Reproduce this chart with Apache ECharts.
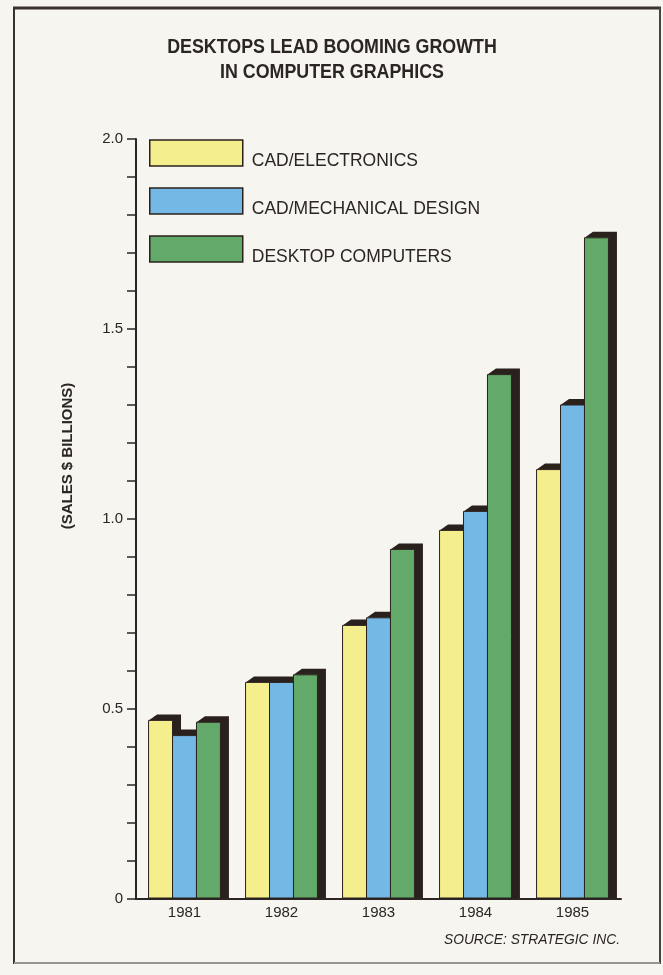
<!DOCTYPE html>
<html>
<head>
<meta charset="utf-8">
<script src="https://cdn.jsdelivr.net/npm/echarts@6/dist/echarts.min.js"></script>
<style>
html,body{margin:0;padding:0;background:#f7f5f0;}
#c{width:663px;height:975px;}
</style>
</head>
<body>
<div id="c"></div>
<script>
var years = ['1981', '1982', '1983', '1984', '1985'];
var cadElectronics = [0.47, 0.57, 0.72, 0.97, 1.13];
var cadMechanical = [0.43, 0.57, 0.74, 1.02, 1.30];
var desktopComputers = [0.465, 0.59, 0.92, 1.38, 1.74];
var seriesNames = ['CAD/ELECTRONICS', 'CAD/MECHANICAL DESIGN', 'DESKTOP COMPUTERS'];
var titleText = 'DESKTOPS LEAD BOOMING GROWTH\nIN COMPUTER GRAPHICS';
var yAxisTitle = '(SALES $ BILLIONS)';
var sourceText = 'SOURCE: STRATEGIC INC.';

var ink = '#2b2523';
var shadowInk = '#2a201c';
var colors = ['#f5ee8c', '#74b8e6', '#62a96a'];
var FONT = "'Liberation Sans', Arial, Helvetica, sans-serif";

function makeRender(k, color) {
  return function (params, api) {
    var idx = api.value(0);
    var val = api.value(1);
    var top = api.coord([idx, val]);
    var base = api.coord([idx, 0]);
    var catW = api.size([1, 0])[0];
    var w = catW * 0.247;
    var cx = top[0] + (k - 1) * w;
    var x0 = cx - w / 2, x1 = cx + w / 2;
    var yT = top[1], yB = base[1] - 1;
    var dx = 8.5, dy = 6;
    return {
      type: 'group',
      children: [
        {
          type: 'polygon',
          shape: { points: [[x0, yT], [x0 + dx, yT - dy], [x1 + dx, yT - dy], [x1 + dx, yB], [x1, yB], [x1, yT]] },
          style: { fill: shadowInk }
        },
        {
          type: 'rect',
          shape: { x: x0, y: yT, width: w, height: yB - yT },
          style: { fill: color, stroke: shadowInk, lineWidth: 1 }
        }
      ]
    };
  };
}

function barSeries(k, name, values, color) {
  return {
    name: name,
    type: 'custom',
    renderItem: makeRender(k, color),
    data: values.map(function (v, i) { return [i, v]; }),
    encode: { x: 0, y: 1 },
    itemStyle: { color: color },
    emphasis: { disabled: true },
    silent: true
  };
}

var chart = echarts.init(document.getElementById('c'), null, { renderer: 'canvas' });
chart.setOption({
  backgroundColor: '#f7f5f0',
  animation: false,
  textStyle: { fontFamily: FONT },
  legend: {
    orient: 'vertical',
    left: 144,
    top: 131,
    itemWidth: 93,
    itemHeight: 26,
    itemGap: 14,
    icon: 'rect',
    data: seriesNames,
    itemStyle: {
      borderColor: shadowInk,
      borderWidth: 1.5
    },
    formatter: function (name) { return '{t|' + name + '}'; },
    textStyle: {
      fontFamily: FONT,
      fontSize: 17.5,
      color: ink,
      rich: {
        t: { fontFamily: FONT, fontSize: 17.5, color: ink, lineHeight: 20, padding: [16, 0, 0, 4] }
      }
    },
    selectedMode: false
  },
  grid: { left: 136, right: 42, top: 139, bottom: 76 },
  xAxis: {
    type: 'category',
    data: years,
    axisLine: { lineStyle: { color: ink, width: 2 } },
    axisTick: { show: false },
    axisLabel: { color: ink, fontSize: 15, margin: 6, fontFamily: FONT }
  },
  yAxis: {
    type: 'value',
    min: 0,
    max: 2.0,
    interval: 0.1,
    axisLine: { show: true, lineStyle: { color: ink, width: 2 } },
    axisTick: { show: true, inside: false, length: 9, lineStyle: { color: ink, width: 1.5 } },
    splitLine: { show: false },
    axisLabel: {
      color: ink,
      fontSize: 15,
      margin: 13,
      fontFamily: FONT,
      formatter: function (v) {
        var r = Math.round(v * 10);
        if (r === 0) return '0';
        if (r % 5 === 0) return (r / 10).toFixed(1);
        return '';
      }
    }
  },
  series: [
    barSeries(0, seriesNames[0], cadElectronics, colors[0]),
    barSeries(1, seriesNames[1], cadMechanical, colors[1]),
    barSeries(2, seriesNames[2], desktopComputers, colors[2])
  ],
  graphic: [
    { type: 'line', shape: { x1: 13, y1: 8, x2: 661, y2: 8 }, style: { stroke: '#3a322e', lineWidth: 3 }, silent: true },
    { type: 'line', shape: { x1: 14, y1: 7, x2: 14, y2: 964 }, style: { stroke: '#3a322e', lineWidth: 2 }, silent: true },
    { type: 'line', shape: { x1: 660, y1: 7, x2: 660, y2: 964 }, style: { stroke: '#4a423e', lineWidth: 2 }, silent: true },
    { type: 'line', shape: { x1: 14, y1: 963, x2: 660, y2: 963 }, style: { stroke: '#9a9590', lineWidth: 2 }, silent: true },
    {
      type: 'text',
      x: 332,
      y: 60,
      scaleX: 0.87,
      style: {
        text: titleText,
        fontFamily: FONT,
        fontWeight: 'bold',
        fontSize: 20.5,
        lineHeight: 25,
        fill: ink,
        textAlign: 'center',
        textVerticalAlign: 'middle'
      },
      silent: true
    },
    {
      type: 'text',
      x: 68,
      y: 456,
      rotation: Math.PI / 2,
      style: {
        text: yAxisTitle,
        fontFamily: FONT,
        fontWeight: 'bold',
        fontSize: 15,
        fill: ink,
        textAlign: 'center',
        textVerticalAlign: 'middle'
      },
      silent: true
    },
    {
      type: 'text',
      x: 620,
      y: 940,
      style: {
        text: sourceText,
        fontFamily: FONT,
        fontStyle: 'italic',
        fontSize: 13.8,
        fill: ink,
        textAlign: 'right',
        textVerticalAlign: 'middle'
      },
      silent: true
    }
  ]
});
</script>
</body>
</html>
